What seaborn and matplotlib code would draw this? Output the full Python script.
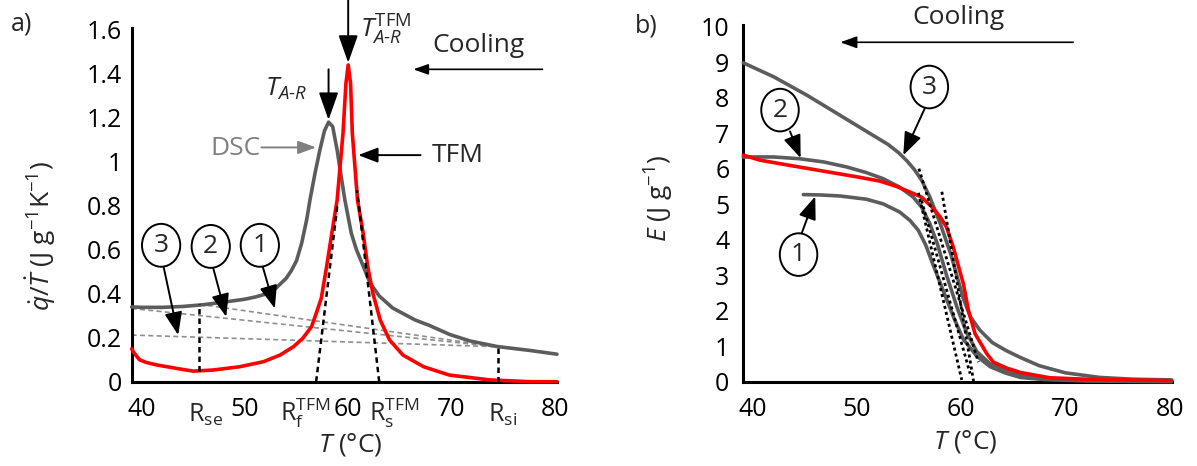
import numpy as np
import pandas as pd
import matplotlib
matplotlib.use("Agg")
import matplotlib.pyplot as plt
import seaborn as sns
from matplotlib.patches import Ellipse
import matplotlib.transforms as mtransforms

# ---------------- data: panel a) ----------------
dsc_T = [39.05, 40, 42, 44, 46, 48, 50, 51, 52, 53, 54, 54.5, 55, 55.5, 56, 56.3, 56.8,
         57.26, 57.7, 58.1, 58.5, 58.93, 59.3, 59.68, 60.3, 60.8, 61.5, 62.1, 63, 64.3,
         65.3, 66.5, 67.9, 69.8, 71.8, 74.4, 77.6, 80.2]
dsc_q = [0.34, 0.338, 0.338, 0.342, 0.350, 0.362, 0.375, 0.385, 0.398, 0.425, 0.47, 0.505,
         0.55, 0.63, 0.74, 0.826, 0.95, 1.053, 1.14, 1.18, 1.16, 1.053, 0.94, 0.826, 0.675,
         0.60, 0.52, 0.45, 0.39, 0.335, 0.31, 0.28, 0.255, 0.215, 0.185, 0.16, 0.142, 0.125]

tfm_T = [39.05, 39.2, 39.8, 40.5, 41.5, 43.7, 45.0, 46.9, 49.5, 51.8, 53.4, 54.7, 55.6,
         56.45, 56.9, 57.4, 57.9, 58.4, 58.93, 59.5, 59.78, 60.0, 60.23, 60.4, 60.9,
         61.45, 61.9, 62.4, 63.1, 64.0, 65.3, 67.3, 69.8, 73.7, 77.6, 80.2]
tfm_q = [0.15, 0.136, 0.10, 0.087, 0.076, 0.058, 0.048, 0.053, 0.068, 0.091, 0.121, 0.159,
         0.197, 0.25, 0.31, 0.38, 0.52, 0.67, 0.826, 1.13, 1.356, 1.44, 1.356, 1.13, 0.826,
         0.674, 0.52, 0.40, 0.28, 0.19, 0.121, 0.068, 0.03, 0.008, 0.0, 0.0]

# baselines 1, 2, 3 (start, end)
base1_T = [45.6, 74.4]; base1_q = [0.352, 0.159]
base2_T = [39.05, 74.4]; base2_q = [0.333, 0.159]
base3_T = [39.05, 74.4]; base3_q = [0.212, 0.159]
# construction lines
rse_T = [45.6, 45.6]; rse_q = [0.05, 0.352]
rsi_T = [74.5, 74.5]; rsi_q = [0.0, 0.159]
rf_T = [56.9, 58.95]; rf_q = [0.0, 0.80]
rs_T = [63.0, 60.87]; rs_q = [0.0, 0.87]

left_yticks = [0, 0.2, 0.4, 0.6, 0.8, 1, 1.2, 1.4, 1.6]
left_yticklabels = ["0", "0.2", "0.4", "0.6", "0.8", "1", "1.2", "1.4", "1.6"]
xticks = [40, 50, 60, 70, 80]
xticklabels = ["40", "50", "60", "70", "80"]
r_pos = [46.2, 55.8, 64.5, 74.9]
r_labels = [r"R$_{\mathrm{se}}$", r"R$_{\mathrm{f}}^{\mathrm{TFM}}$",
            r"R$_{\mathrm{s}}^{\mathrm{TFM}}$", r"R$_{\mathrm{si}}$"]

# ---------------- data: panel b) ----------------
c3_T = [39.1, 42.0, 45.2, 48.4, 51.6, 53.0, 54.0, 54.8, 55.5, 56.2, 57.0, 58.0, 59.0, 60.2,
        60.9, 61.8, 63.0, 64.3, 65.7, 67.5, 70.0, 73.3, 76.5, 80.2]
c3_E = [8.98, 8.59, 8.07, 7.50, 6.93, 6.68, 6.45, 6.22, 5.98, 5.68, 5.2, 4.45, 3.6, 2.35,
        1.82, 1.45, 1.1, 0.88, 0.68, 0.45, 0.25, 0.12, 0.07, 0.05]

c2_T = [39.1, 42.0, 44.5, 46.8, 49.0, 50.9, 52.5, 54.1, 55.4, 56.2, 57.0, 57.7, 58.6, 59.6,
        60.5, 61.5, 62.8, 64.3, 65.7, 68.5, 72.0, 76.0, 80.2]
c2_E = [6.33, 6.33, 6.28, 6.19, 6.05, 5.89, 5.72, 5.48, 5.2, 4.92, 4.45, 3.9, 3.0, 2.1,
        1.4, 0.85, 0.5, 0.3, 0.2, 0.08, 0.04, 0.02, 0.02]

c1_T = [44.86, 46.5, 48.4, 50.9, 52.5, 54.1, 55.1, 55.9, 56.6, 57.3, 58.3, 59.3, 60.2, 61.5,
        62.8, 64.3, 65.7, 68.0, 72.0, 80.2]
c1_E = [5.27, 5.26, 5.23, 5.14, 5.01, 4.78, 4.54, 4.26, 3.85, 3.3, 2.55, 1.8, 1.2, 0.72,
        0.42, 0.24, 0.12, 0.06, 0.02, 0.0]

red_T = [39.1, 40.7, 43.6, 46.8, 50.0, 52.2, 53.8, 55.1, 56.2, 57.2, 58.0, 58.6, 59.26, 59.7,
         60.22, 60.7, 61.34, 62.46, 63.1, 64.4, 65.7, 68.5, 72.0, 76.0, 80.2]
red_E = [6.38, 6.24, 6.09, 5.93, 5.77, 5.65, 5.5, 5.34, 5.2, 4.92, 4.64, 4.35, 3.78, 3.3,
         2.75, 2.01, 1.35, 0.79, 0.55, 0.38, 0.26, 0.11, 0.07, 0.05, 0.03]

tan3_T = [55.95, 61.66]; tan3_E = [6.0, 0.55]
tan2_T = [56.2, 60.86]; tan2_E = [5.1, 0.23]
tan1_T = [55.9, 60.06]; tan1_E = [5.32, 0.05]
tanr_T = [58.15, 61.2]; tanr_E = [5.35, 0.0]

right_yticks = list(range(0, 11))
right_yticklabels = [str(v) for v in right_yticks]

# ---------------- style ----------------
sns.set_theme(style="white")
plt.rcParams["font.family"] = ["Open Sans", "DejaVu Sans"]
plt.rcParams["mathtext.fontset"] = "custom"
plt.rcParams["mathtext.rm"] = "Open Sans"
plt.rcParams["mathtext.it"] = "Open Sans:italic"
plt.rcParams["mathtext.bf"] = "Open Sans:bold"
plt.rcParams["mathtext.sf"] = "Open Sans"

GRAY = "#5c5c5c"
RED = "#ff0000"
TICK_FS = 18
ANN_FS = 19
LAB_FS = 18

fig = plt.figure(figsize=(11.97, 4.66), dpi=100)
axL = fig.add_axes([0.110, 0.1809, 0.3553, 0.760])
axR = fig.add_axes([0.621, 0.1809, 0.3578, 0.7657])


def style(ax, ypad):
    for s in ["top", "right"]:
        ax.spines[s].set_visible(False)
    for s in ["left", "bottom"]:
        ax.spines[s].set_linewidth(2.2)
        ax.spines[s].set_color("black")
    ax.tick_params(axis="both", which="major", direction="in", length=5, width=1.5,
                   color="black", labelsize=TICK_FS, labelcolor="black")
    ax.tick_params(axis="x", pad=11)
    ax.tick_params(axis="y", pad=ypad)
    ax.grid(False)


def arrow(ax, start, tip, color="black", hl=0.7, hw=0.27, lw=1.4):
    ax.annotate("", xy=tip, xytext=start, xycoords="data", textcoords="data",
                annotation_clip=False,
                arrowprops=dict(arrowstyle=f"-|>,head_length={hl},head_width={hw}",
                                color=color, lw=lw, mutation_scale=20,
                                shrinkA=0, shrinkB=0))


def circled(ax, x, y, w, h, label):
    e = Ellipse((x, y), w, h, facecolor="white", edgecolor="black", lw=1.4, zorder=6,
                clip_on=False)
    ax.add_patch(e)
    ax.text(x, y, label, ha="center", va="center", fontsize=ANN_FS, zorder=7)


# ---------------- panel a ----------------
ax = axL
for bx, by in [(base1_T, base1_q), (base2_T, base2_q), (base3_T, base3_q)]:
    ax.plot(bx, by, color="#8f8f8f", lw=1.2, ls=(0, (3, 2)), zorder=2)
for bx, by in [(rse_T, rse_q), (rsi_T, rsi_q), (rf_T, rf_q), (rs_T, rs_q)]:
    ax.plot(bx, by, color="black", lw=1.8, ls=(0, (2.2, 1.6)), zorder=4)
sns.lineplot(x=dsc_T, y=dsc_q, ax=ax, color=GRAY, lw=2.6, estimator=None, sort=False, zorder=3)
sns.lineplot(x=tfm_T, y=tfm_q, ax=ax, color=RED, lw=2.6, estimator=None, sort=False, zorder=3)
for ln in ax.get_lines():
    ln.set_clip_on(False)
ax.set_xlim(39.05, 80.2)
ax.set_ylim(0, 1.61)
ax.set_xticks(xticks)
ax.set_xticklabels(xticklabels)
ax.set_yticks(left_yticks)
ax.set_yticklabels(left_yticklabels)
style(ax, 7)
ax.set_xlabel(r"$T$ (°C)", fontsize=LAB_FS + 1)
ax.set_ylabel(r"$\dot{q}/\dot{T}$ (J g$^{-1}$K$^{-1}$)", fontsize=LAB_FS + 1)
ax.xaxis.set_label_coords(0.513, -0.178)
ax.xaxis.label.set_va("center")
ax.yaxis.set_label_coords(-0.213, 0.411)
ax.yaxis.label.set_va("center")
trans = mtransforms.blended_transform_factory(ax.transData, ax.transAxes)
for xp, lab in zip(r_pos, r_labels):
    ax.text(xp, -0.112, lab, transform=trans, ha="center", va="baseline", fontsize=TICK_FS)

ax.text(54.0, 1.33, r"$T_{A\text{-}R}$", ha="center", va="center", fontsize=ANN_FS)
arrow(ax, (58.1, 1.42), (58.1, 1.19), hl=0.85, hw=0.3)
ax.text(63.6, 1.6, r"$T_{A\text{-}R}^{\mathrm{TFM}}$", ha="center", va="center",
        fontsize=ANN_FS, clip_on=False)
arrow(ax, (60.0, 1.74), (60.0, 1.45), hl=0.85, hw=0.3)
ax.text(72.6, 1.53, "Cooling", ha="center", va="center", fontsize=ANN_FS)
arrow(ax, (78.8, 1.42), (66.3, 1.42), hl=0.45, hw=0.16, lw=1.2)
ax.text(49.1, 1.06, "DSC", ha="center", va="center", fontsize=ANN_FS, color="#808080")
arrow(ax, (51.6, 1.065), (56.9, 1.065), color="#808080", hl=0.55, hw=0.2, lw=1.4)
ax.text(70.6, 1.03, "TFM", ha="center", va="center", fontsize=ANN_FS)
arrow(ax, (67.0, 1.03), (60.97, 1.03), hl=0.6, hw=0.23, lw=1.4)

circled(ax, 41.9, 0.62, 3.7, 0.195, "3")
circled(ax, 46.7, 0.615, 3.7, 0.195, "2")
circled(ax, 51.45, 0.62, 3.7, 0.195, "1")
arrow(ax, (42.15, 0.52), (43.55, 0.212))
arrow(ax, (46.95, 0.515), (48.2, 0.295))
arrow(ax, (51.75, 0.52), (52.9, 0.333))

fig.text(0.018, 0.948, "a)", fontsize=LAB_FS, ha="center", va="center")

# ---------------- panel b ----------------
ax = axR
for tx, ty in [(tan3_T, tan3_E), (tan2_T, tan2_E), (tan1_T, tan1_E), (tanr_T, tanr_E)]:
    ax.plot(tx, ty, color="black", lw=2.0, ls=(0, (1.1, 1.1)), zorder=4)
sns.lineplot(x=c3_T, y=c3_E, ax=ax, color=GRAY, lw=2.6, estimator=None, sort=False, zorder=3)
sns.lineplot(x=c2_T, y=c2_E, ax=ax, color=GRAY, lw=2.6, estimator=None, sort=False, zorder=3)
sns.lineplot(x=c1_T, y=c1_E, ax=ax, color=GRAY, lw=2.6, estimator=None, sort=False, zorder=3)
sns.lineplot(x=red_T, y=red_E, ax=ax, color=RED, lw=2.6, estimator=None, sort=False, zorder=3.5)
for ln in ax.get_lines():
    ln.set_clip_on(False)
ax.set_xlim(39.1, 80.2)
ax.set_ylim(0, 10.05)
ax.set_xticks(xticks)
ax.set_xticklabels(xticklabels)
ax.set_yticks(right_yticks)
ax.set_yticklabels(right_yticklabels)
style(ax, 10)
ax.set_xlabel(r"$T$ (°C)", fontsize=LAB_FS + 1)
ax.set_ylabel(r"$E$ (J g$^{-1}$)", fontsize=LAB_FS + 1)
ax.xaxis.set_label_coords(0.517, -0.168)
ax.xaxis.label.set_va("center")
ax.yaxis.set_label_coords(-0.196, 0.515)
ax.yaxis.label.set_va("center")

ax.text(59.7, 10.27, "Cooling", ha="center", va="center", fontsize=ANN_FS, clip_on=False)
arrow(ax, (70.75, 9.56), (48.4, 9.56), hl=0.5, hw=0.18, lw=1.2)

circled(ax, 56.95, 8.3, 3.6, 1.2, "3")
circled(ax, 42.62, 7.65, 3.6, 1.2, "2")
circled(ax, 44.4, 3.58, 3.6, 1.2, "1")
arrow(ax, (56.5, 7.69), (54.45, 6.38))
arrow(ax, (43.58, 7.05), (44.6, 6.3))
arrow(ax, (44.7, 4.18), (46.0, 5.22))

fig.text(0.540, 0.945, "b)", fontsize=LAB_FS, ha="center", va="center")

fig.savefig("out.png", dpi=100)
